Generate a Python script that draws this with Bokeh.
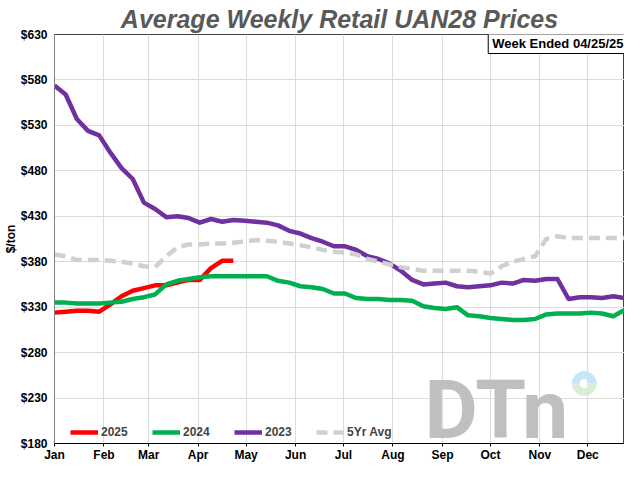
from bokeh.plotting import figure
from bokeh.models import Legend, LegendItem, Label, FixedTicker, Range1d
from bokeh.embed import file_html
from bokeh.resources import INLINE

# ---- data ----
months = ["Jan", "Feb", "Mar", "Apr", "May", "Jun", "Jul", "Aug", "Sep", "Oct", "Nov", "Dec"]
month_start_day = [0, 31, 59, 90, 120, 151, 181, 212, 243, 273, 304, 334]
weeks = list(range(52))

price_2025 = [324, 325, 326, 326, 325, 333, 342, 348, 351, 354, 354, 357, 360, 360, 373, 381, 381]

price_2024 = [335, 335, 334, 334, 334, 335, 336, 339, 341, 344, 355, 359, 361, 363, 364, 364,
              364, 364, 364, 364, 359, 357, 353, 352, 350, 345, 345, 340, 339, 339, 338, 338,
              337, 331, 329, 328, 330, 321, 320, 318, 317, 316, 316, 317, 322, 323, 323, 323,
              324, 323, 320, 327]

price_2023 = [574, 564, 537, 524, 519, 500, 483, 471, 445, 438, 429, 430, 428, 423, 427, 424,
              426, 425, 424, 423, 420, 414, 411, 406, 402, 397, 397, 393, 386, 383, 378, 370,
              360, 355, 356, 357, 353, 352, 353, 354, 357, 356, 360, 359, 361, 361, 339, 341,
              341, 340, 342, 340]

price_5yr = [388, 386, 382, 382, 382, 381, 380, 378, 375, 374, 386, 396, 399, 399, 400, 400,
             401, 402, 404, 403, 402, 400, 398, 396, 393, 391, 390, 388, 383, 380, 377, 374,
             372, 370, 370, 370, 370, 370, 369, 367, 375, 380, 383, 386, 405, 408, 406, 406,
             406, 406, 406, 406]

y_ticks = [180, 230, 280, 330, 380, 430, 480, 530, 580, 630]

FONT = "Liberation Sans"

p = figure(width=624, height=464, output_backend="svg", toolbar_location=None,
           x_range=Range1d(0, 51), y_range=Range1d(180, 630),
           min_border_left=46, min_border_right=0, min_border_top=0, min_border_bottom=0)

p.title.text = "Average Weekly Retail UAN28 Prices"
p.title.align = "center"
p.title.text_font = FONT
p.title.text_font_size = "25px"
p.title.text_font_style = "bold italic"
p.title.text_color = "#595959"
p.title.standoff = 4

p.outline_line_color = "#404040"
p.outline_line_width = 1

# grid
p.xgrid.grid_line_color = "#dcdcdc"
p.ygrid.grid_line_color = "#dcdcdc"

# x axis
tick_pos = [d / 7 for d in month_start_day]
p.xaxis.ticker = FixedTicker(ticks=tick_pos)
p.xaxis.major_label_overrides = {t: m for t, m in zip(tick_pos, months)}
p.xaxis.axis_label = None
p.xaxis.minor_tick_line_color = None
p.xaxis.major_tick_out = 3
p.xaxis.major_tick_in = 0
p.xaxis.major_label_standoff = 1
p.xaxis.axis_line_color = "black"
p.xaxis.major_tick_line_color = "black"

# y axis
p.yaxis.ticker = FixedTicker(ticks=y_ticks)
p.yaxis.major_label_overrides = {t: f"${t}" for t in y_ticks}
p.yaxis.minor_tick_line_color = None
p.yaxis.major_tick_out = 0
p.yaxis.major_tick_in = 0
p.yaxis.major_label_standoff = 7
p.yaxis.axis_label = "$/ton"
p.yaxis.axis_label_standoff = 0
p.yaxis.axis_line_color = "#808080"

for ax in (p.xaxis[0], p.yaxis[0]):
    ax.major_label_text_font = FONT
    ax.major_label_text_font_size = "12px"
    ax.major_label_text_font_style = "bold"
    ax.major_label_text_color = "black"
    ax.axis_label_text_font = FONT
    ax.axis_label_text_font_size = "12px"
    ax.axis_label_text_font_style = "bold"
    ax.axis_label_text_color = "black"

# DTN watermark
logo = Label(x=51, y=180, x_offset=-200, y_offset=-14, text="DTn",
             text_font="Roboto", text_font_size="82px", text_font_style="bold",
             text_color="#bfbfbf", text_align="left", text_baseline="bottom")
p.add_layout(logo)
logo_x, logo_y = 47.4, 246
p.annular_wedge(x=[logo_x], y=[logo_y], inner_radius=5, outer_radius=12,
                inner_radius_units="screen", outer_radius_units="screen",
                start_angle=0, end_angle=3.14159, color="#c6e6f6")
p.annular_wedge(x=[logo_x], y=[logo_y], inner_radius=5, outer_radius=12,
                inner_radius_units="screen", outer_radius_units="screen",
                start_angle=3.14159, end_angle=6.28318, color="#d8eed5")

# lines
r25 = p.line(weeks[:len(price_2025)], price_2025, line_color="#ff0000", line_width=4.5, line_join="round")
r24 = p.line(weeks[:len(price_2024)], price_2024, line_color="#00b050", line_width=4.5, line_join="round")
r23 = p.line(weeks[:len(price_2023)], price_2023, line_color="#7030a0", line_width=4.5, line_join="round")
r5 = p.line(weeks[:len(price_5yr)], price_5yr, line_color="#d0d0d0", line_width=4.5,
            line_dash="11 6", line_join="round")

legend = Legend(items=[LegendItem(label="2025", renderers=[r25]),
                       LegendItem(label="2024", renderers=[r24]),
                       LegendItem(label="2023", renderers=[r23]),
                       LegendItem(label="5Yr Avg", renderers=[r5])],
                orientation="horizontal", location=(16, 4), padding=0, margin=0,
                spacing=22, glyph_width=28, glyph_height=12, label_standoff=3, label_width=29,
                background_fill_alpha=0, border_line_color=None,
                label_text_font=FONT, label_text_font_style="bold", label_text_font_size="12px")
p.add_layout(legend)

week_box = Label(x=51, y=630, x_offset=3, y_offset=2, text="Week Ended 04/25/25",
                 text_align="right", text_baseline="top", text_font=FONT,
                 text_font_size="13px", text_font_style="bold", text_color="black",
                 border_line_color="black", background_fill_color="white", padding=(4, 3))
p.add_layout(week_box)

open("out.html", "w").write(file_html(p, INLINE))
